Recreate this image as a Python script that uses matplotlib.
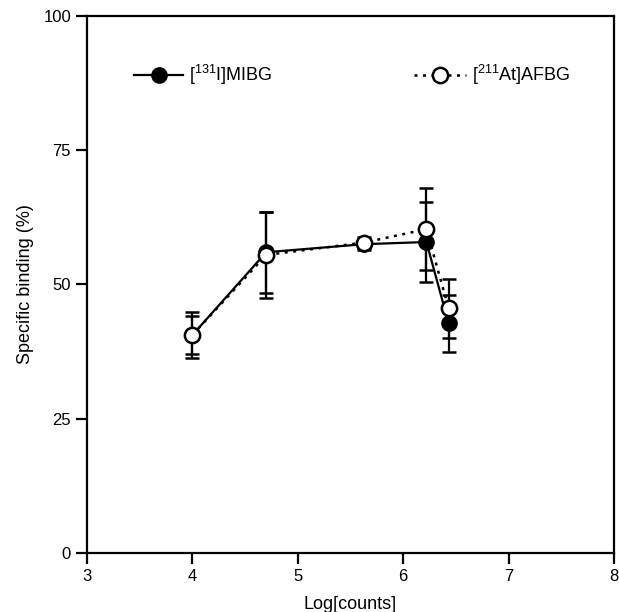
import matplotlib
matplotlib.use('Agg')
import matplotlib.pyplot as plt
from matplotlib.lines import Line2D
import numpy as np

plt.rcParams['font.family'] = ['Liberation Sans', 'DejaVu Sans']
plt.rcParams['mathtext.fontset'] = 'custom'
plt.rcParams['mathtext.rm'] = 'Liberation Sans'
plt.rcParams['mathtext.it'] = 'Liberation Sans'

# Datos
log_counts = [4.0, 4.7, 5.63, 6.22, 6.43]
mibg = [40.6, 56.0, 57.5, 57.9, 42.8]
mibg_err = [3.5, 7.5, 1.0, 7.5, 5.3]
afbg = [40.6, 55.5, 57.8, 60.3, 45.6]
afbg_err = [4.3, 8.0, 1.0, 7.6, 5.5]

x_ticks = [3, 4, 5, 6, 7, 8]
y_ticks = [0, 25, 50, 75, 100]

dotted = (0, (1.2, 2.2))

fig = plt.figure(figsize=(6.19, 6.12), dpi=100)
ax = fig.add_axes([0.1406, 0.0964, 0.8514, 0.8776])

# Serie [131I]MIBG (circulo relleno, linea continua)
ax.errorbar(log_counts, mibg, yerr=mibg_err, color='black', lw=1.6,
            marker='o', markersize=11, markerfacecolor='black',
            markeredgecolor='black', capsize=5, capthick=1.8, elinewidth=1.6,
            zorder=3)

# Serie [211At]AFBG (circulo abierto, linea punteada)
ax.errorbar(log_counts, afbg, yerr=afbg_err, color='black', lw=1.8,
            linestyle=dotted, marker='o', markersize=11,
            markerfacecolor='white', markeredgecolor='black', markeredgewidth=1.8,
            capsize=5, capthick=1.8, elinewidth=1.6, zorder=4)

ax.set_xlim(3, 8)
ax.set_ylim(0, 100)
ax.set_xticks(x_ticks)
ax.set_yticks(y_ticks)
ax.tick_params(direction='out', length=8, width=1.6, labelsize=12)
for s in ax.spines.values():
    s.set_linewidth(1.6)

ax.set_xlabel('Log[counts]', fontsize=13, labelpad=9)
ax.set_ylabel('Specific binding (%)', fontsize=13, labelpad=7)

# Leyendas sin barras de error, una por serie
h_mibg = Line2D([], [], color='black', lw=1.6, marker='o', markersize=11,
                markerfacecolor='black')
h_afbg = Line2D([], [], color='black', lw=1.8, linestyle=dotted, marker='o',
                markersize=11, markerfacecolor='white', markeredgewidth=1.8)

leg1 = ax.legend([h_mibg], [r'[$^{131}$I]MIBG'], loc='center left',
                 bbox_to_anchor=(0.09, 0.89), frameon=False, fontsize=13,
                 handlelength=2.7, handletextpad=0.3, borderpad=0,
                 borderaxespad=0)
ax.add_artist(leg1)
ax.legend([h_afbg], [r'[$^{211}$At]AFBG'], loc='center left',
          bbox_to_anchor=(0.62, 0.89), frameon=False, fontsize=13,
          handlelength=2.9, handletextpad=0.3, borderpad=0, borderaxespad=0)

fig.savefig('out.png', dpi=100)
